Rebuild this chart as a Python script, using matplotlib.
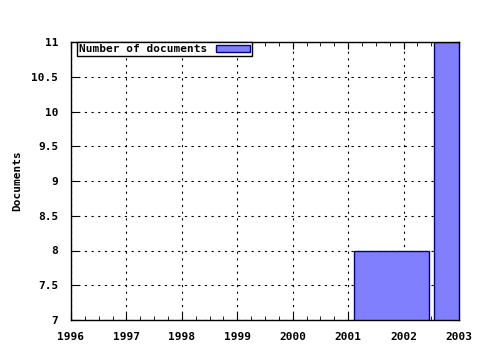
import matplotlib
matplotlib.use("Agg")
import matplotlib.pyplot as plt
from matplotlib.ticker import MultipleLocator

bar_x = [2001.775, 2003.225]
docs = [8, 11]
series_label = "Number of documents"
ylabel = "Documents"
xticks = [1996, 1997, 1998, 1999, 2000, 2001, 2002, 2003]
yticks = [7, 7.5, 8, 8.5, 9, 9.5, 10, 10.5, 11]

plt.rcParams['font.family'] = ['DejaVu Sans Mono']
plt.rcParams['font.weight'] = 'bold'

fig = plt.figure(figsize=(4.8, 3.5), dpi=100)
ax = fig.add_axes([71/480, 30/350, 388/480, 278/350])

ax.bar(bar_x, docs, width=1.35, align='center', bottom=0, color='#8080ff',
       edgecolor='#00008b', linewidth=1.0, label=series_label, zorder=3)

ax.set_xlim(1996, 2003)
ax.set_ylim(7, 11)
ax.set_xticks(xticks)
ax.set_xticklabels([str(x) for x in xticks])
ax.set_yticks(yticks)
ax.set_yticklabels(['%g' % v for v in yticks])
ax.xaxis.set_minor_locator(MultipleLocator(0.25))
ax.grid(True, which='major', linestyle=(0, (2, 4)), color='black', linewidth=0.8, zorder=1)
ax.tick_params(which='both', direction='in', top=True, right=True, labelsize=8)
ax.tick_params(axis='x', pad=9)
ax.tick_params(axis='y', pad=9)
ax.tick_params(which='major', length=5)
ax.tick_params(which='minor', length=3)
for s in ax.spines.values():
    s.set_linewidth(1.0)
    s.set_zorder(4)
ax.set_ylabel(ylabel, fontsize=8, fontweight='bold', labelpad=7)

leg = ax.legend(loc='upper left', bbox_to_anchor=(0.015, 1.0), frameon=True, fancybox=False,
                edgecolor='black', framealpha=1, fontsize=8, borderpad=0.2,
                handlelength=3, handleheight=0.6, markerfirst=False, borderaxespad=0.0)
leg.get_frame().set_linewidth(1.0)

fig.savefig("out.png", dpi=100, facecolor='white')
